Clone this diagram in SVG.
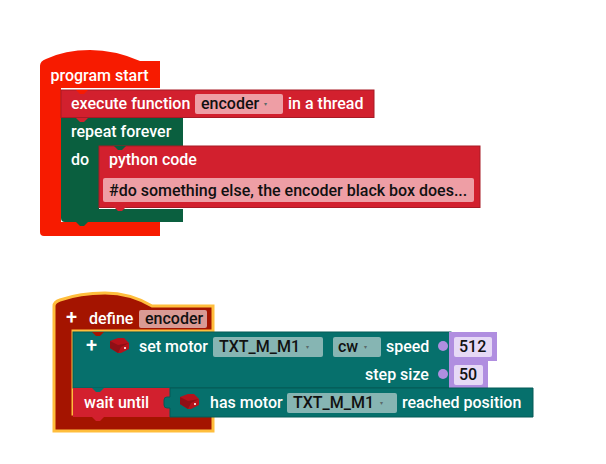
<svg xmlns="http://www.w3.org/2000/svg" width="606" height="464" viewBox="0 0 606 464">
<style>
text{font-family:Roboto,"Liberation Sans",sans-serif;font-weight:500;font-size:16px}
.w{fill:#fff}.d{fill:#111}
.plus{font-size:20px}
.arrow{fill:#5a6a6a;font-size:6px}
.red{fill:#d2202e;stroke:#a81a25;stroke-width:1}
.green{fill:#0a5f3f}
.teal{fill:#06706c;stroke:#055a57;stroke-width:1}
.pr{fill:#ee9ea5}.pg{fill:#86b5b3}
.pu{fill:#b08ee0}.pl{fill:#e6d9f6}
.motor{fill:#b5121b}
</style>
<defs>
<path id="n" d="M0 0H12L8 4H4Z"/>
<g id="icon"><path class="motor" d="M0 3L8 0H14L19 5V11L11 15H8L0 10Z"/><path d="M0 3L8 7L19 5L11 9L8 15L0 10Z" fill="#8f0f16"/><rect x="14" y="9" width="2" height="2" fill="#f5c8c8"/></g>
</defs>
<rect width="606" height="464" fill="#fff"/>
<g id="program-start"><path d="M40 66Q40 61 46 59Q65 50 90 50Q115 50 140 61H160V88H61V222H160V236H44Q40 236 40 232Z" fill="#f71b00"/><text class="w" x="50.500" y="81">program start</text></g>
<g id="repeat-forever"><path d="M61 118H183V146H99V209H183V222H65Q61 222 61 218Z" class="green"/><text class="w" x="71" y="137">repeat forever</text><text class="w" x="71" y="165">do</text></g>
<g id="execute-function"><rect x="61" y="90" width="313" height="27.500" class="red"/><text class="w" x="71" y="109">execute function</text><rect class="pr" x="195" y="94" width="88" height="20" rx="2"/><text class="d" x="201" y="109">encoder</text><text class="arrow" x="264" y="106">▾</text><text class="w" x="288" y="109">in a thread</text></g>
<g id="python-code"><rect x="99" y="146" width="381" height="61.500" class="red"/><text class="w" x="109" y="165">python code</text><rect class="pr" x="103" y="178" width="371" height="24" rx="2"/><text class="d" x="109" y="196">#do something else, the encoder black box does...</text></g>
<g id="define-encoder"><path d="M54 306Q54 302 60 300Q80 293 105 293Q130 293 152 306H213V331H73V414H213V431H54Z" fill="#a41400" stroke="#ffbe3c" stroke-width="3"/><text class="w plus" x="66" y="324">+</text><text class="w" x="89" y="324">define</text><rect x="139" y="310" width="68" height="18" rx="2" fill="#d99a94"/><text class="d" x="145" y="324">encoder</text></g>
<g id="set-motor"><rect x="73" y="332" width="378" height="56" class="teal"/><text class="w plus" x="86" y="352">+</text><use href="#icon" x="110" y="338"/><text class="w" x="139" y="352">set motor</text><rect class="pg" x="213" y="337" width="110" height="20" rx="2"/><text class="d" x="219" y="352">TXT_M_M1</text><text class="arrow" x="306" y="349">▾</text><rect class="pg" x="333" y="337" width="48" height="20" rx="2"/><text class="d" x="338" y="352">cw</text><text class="arrow" x="364" y="349">▾</text><text class="w" x="386" y="352">speed</text><text class="w" x="365" y="380">step size</text><circle cx="443" cy="346" r="5" fill="#b08ee0"/><circle cx="443" cy="374" r="5" fill="#b08ee0"/></g>
<g id="value-512"><rect class="pu" x="449" y="332" width="48" height="29"/><rect class="pl" x="454" y="337" width="38" height="20" rx="2"/><text class="d" x="459" y="352">512</text></g>
<g id="value-50"><rect class="pu" x="449" y="361" width="39" height="27"/><rect class="pl" x="454" y="365" width="29" height="20" rx="2"/><text class="d" x="459" y="380">50</text></g>
<g id="wait-until"><rect x="73" y="388" width="97" height="29" fill="#d2202e"/><text class="w" x="84" y="408">wait until</text></g>
<g id="has-motor"><path d="M170 388H533V417H170V408H167Q164 408 164 405V400Q164 397 167 397H170Z" class="teal"/><use href="#icon" x="180" y="394"/><text class="w" x="210" y="408">has motor</text><rect class="pg" x="287" y="393" width="110" height="20" rx="2"/><text class="d" x="293" y="408">TXT_M_M1</text><text class="arrow" x="380" y="405">▾</text><text class="w" x="402" y="408">reached position</text></g>
<g id="connectors">
<use href="#n" x="76" y="90" fill="#f71b00"/>
<use href="#n" x="76" y="118" fill="#d2202e"/>
<use href="#n" x="114" y="146" fill="#0a5f3f"/>
<use href="#n" x="114" y="207" fill="#d2202e"/>
<use href="#n" x="76" y="222" fill="#0a5f3f"/>
<use href="#n" x="92" y="332" fill="#a41400"/>
<use href="#n" x="92" y="388" fill="#06706c"/>
<use href="#n" x="92" y="417" fill="#d2202e"/>
</g>
</svg>
